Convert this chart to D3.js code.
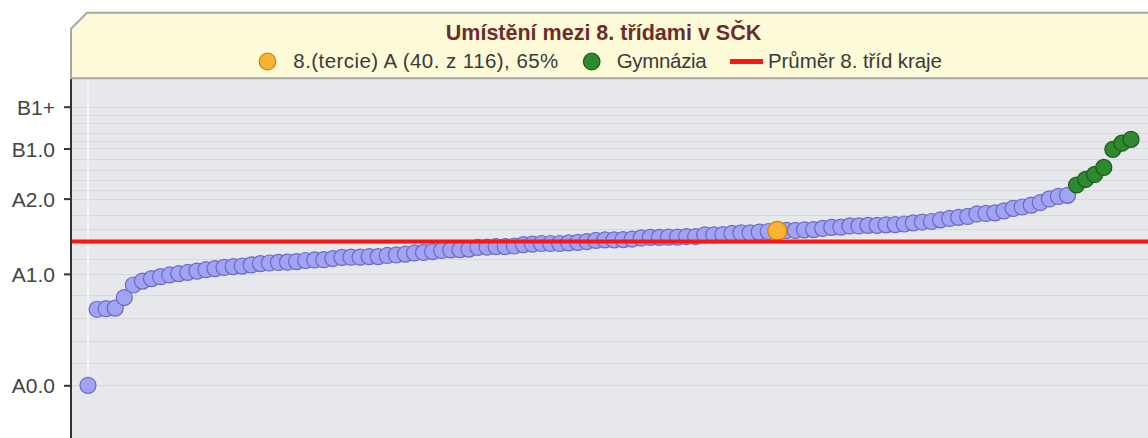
<!DOCTYPE html>
<html><head><meta charset="utf-8">
<script src="https://cdn.jsdelivr.net/npm/d3@7"></script>
<style>html,body{margin:0;padding:0;background:#fff;}svg{display:block;}</style>
</head><body>
<svg id="chart" width="1148" height="438"></svg>
<script>
// ---- data ----
const chartTitle = "Umístění mezi 8. třídami v SČK";
const legendLabels = ["8.(tercie) A (40. z 116), 65%", "Gymnázia", "Průměr 8. tříd kraje"];
const levelLabels = ["A0.0", "A1.0", "A2.0", "B1.0", "B1+"];
const levelValues = [0, 40, 67, 85, 100];
const gridValues = [100, 97.1, 94.2, 90.6, 87.6, 85, 81.3, 77.3, 73.7, 70.1, 67, 61.2, 56.1, 45.3, 40, 32.4, 24.1, 15.8, 7.9, 0];
const classValues = [
  0, 27.3, 27.5, 27.7, 31.5, 36.0, 37.4, 38.3, 39.0, 39.6,
  40.1, 40.5, 41.0, 41.5, 41.9, 42.3, 42.6, 42.8, 43.2, 43.7,
  43.9, 44.1, 44.2, 44.4, 44.8, 45.0, 45.1, 45.5, 45.9, 46.0,
  46.0, 46.2, 46.2, 46.6, 46.8, 47.1, 47.5, 47.7, 48.0, 48.4,
  48.6, 48.7, 48.9, 49.5, 49.6, 49.8, 49.8, 50.0, 50.5, 50.7,
  50.9, 50.9, 50.9, 51.1, 51.3, 51.6, 52.0, 52.2, 52.2, 52.3,
  52.5, 52.9, 53.1, 53.1, 53.2, 53.2, 53.4, 53.4, 54.0, 54.0,
  54.1, 54.5, 54.7, 54.7, 55.0, 55.2, 55.4, 55.6, 55.6, 55.8,
  55.9, 56.3, 56.7, 56.8, 57.2, 57.2, 57.4, 57.4, 57.6, 57.7,
  57.9, 58.3, 58.6, 58.8, 59.4, 59.9, 60.3, 60.6, 61.5, 61.7,
  61.9, 62.6, 63.5, 64.0, 64.7, 65.6, 66.9, 67.8, 68.2, 71.9,
  73.9, 75.7, 78.2, 84.7, 86.9, 88.3
];
const classIds = classValues.map((d, i) => i + 1);
const highlightClass = 77;            // 8.(tercie) A  -> 40th of 116 from the top
const gymnaziaClasses = [110, 111, 112, 113, 114, 115, 116];
const regionAverage = 51.6;

// ---- layout ----
const W = 1148, H = 438;
const plotL = 71, plotT = 78, plotR = 1148, plotB = 438;
const svg = d3.select("#chart");
const FONT = "'Liberation Sans', Arial, sans-serif";

const x = d3.scalePoint().domain(classIds).range([88, 1131]);
const y = d3.scaleLinear().domain([0, 100]).range([385.3, 106.7]);

const colors = {
  normal: {fill: "#a3a3f6", stroke: "#6a6ac2"},
  highlight: {fill: "#f9b232", stroke: "#c98712"},
  gym: {fill: "#2e8a2e", stroke: "#1c5a1c"}
};

svg.append("rect").attr("x", 0).attr("y", 0).attr("width", W).attr("height", H).attr("fill", "#fff");
svg.append("rect").attr("x", plotL).attr("y", plotT).attr("width", plotR - plotL).attr("height", plotB - plotT).attr("fill", "#e6e8eb");

// grid
svg.append("g").selectAll("line").data(gridValues).join("line")
  .attr("x1", plotL).attr("x2", plotR)
  .attr("y1", d => Math.round(y(d)) + 0.5).attr("y2", d => Math.round(y(d)) + 0.5)
  .attr("stroke", "#d6d8dc").attr("stroke-width", 1.2);
svg.append("line").attr("x1", x(classIds[0])).attr("x2", x(classIds[0]))
  .attr("y1", plotT).attr("y2", y(0)).attr("stroke", "#f3f4f5").attr("stroke-width", 2);

// points (highlighted class drawn last, on top)
const pts = classIds.map((id, i) => ({id, v: classValues[i],
  type: id === highlightClass ? "highlight" : (gymnaziaClasses.includes(id) ? "gym" : "normal")}));
const ordered = pts.filter(d => d.type !== "highlight").concat(pts.filter(d => d.type === "highlight"));
svg.append("g").selectAll("circle").data(ordered).join("circle")
  .attr("cx", d => x(d.id)).attr("cy", d => y(d.v))
  .attr("r", d => d.type === "highlight" ? 9.5 : 8)
  .attr("fill", d => colors[d.type].fill)
  .attr("stroke", d => colors[d.type].stroke)
  .attr("stroke-width", 1.2);

// average line
svg.append("line").attr("x1", plotL).attr("x2", plotR)
  .attr("y1", y(regionAverage)).attr("y2", y(regionAverage))
  .attr("stroke", "#ff1414").attr("stroke-width", 4);

// axis
const axis = d3.axisLeft(y).tickValues(levelValues).tickFormat((d, i) => levelLabels[i]).tickSize(7).tickPadding(9);
const ag = svg.append("g").attr("transform", `translate(${plotL},0)`).call(axis);
ag.select(".domain").remove();
ag.selectAll(".tick line").attr("stroke", "#333").attr("stroke-width", 2);
ag.selectAll(".tick text").attr("font-family", FONT)
  .attr("font-size", "21px").attr("fill", "#444").attr("dy", "0.36em");
svg.append("line").attr("x1", plotL).attr("x2", plotL).attr("y1", plotT).attr("y2", plotB)
  .attr("stroke", "#333").attr("stroke-width", 2);

// header
const hx = 71, hy = 12.7, hb = 78.3, ch = 16;
svg.append("path")
  .attr("d", `M${hx},${hb} L${hx},${hy + ch} L${hx + ch},${hy} L${W + 10},${hy} L${W + 10},${hb} Z`)
  .attr("fill", "#fdfbd7").attr("stroke", "#a6a6a6").attr("stroke-width", 2);

svg.append("text").attr("x", 603.5).attr("y", 39.5).attr("text-anchor", "middle")
  .attr("font-family", FONT).attr("font-weight", "bold")
  .attr("font-size", "21.5px").attr("fill", "#6c2b2b").text(chartTitle);

// legend
const lg = svg.append("g");
const ly = 61.5, fs = "20.5px";
const legendItems = [
  {label: legendLabels[0], kind: "circle", c: colors.highlight, mx: 267.5, tx: 293.3, tw: 265},
  {label: legendLabels[1], kind: "circle", c: colors.gym, mx: 591.7, tx: 616.7, tw: 90},
  {label: legendLabels[2], kind: "line", mx: 730, tx: 768, tw: 174}
];
legendItems.forEach(it => {
  if (it.kind === "circle") {
    lg.append("circle").attr("cx", it.mx).attr("cy", ly).attr("r", 8.3)
      .attr("fill", it.c.fill).attr("stroke", it.c.stroke).attr("stroke-width", 1.2);
  } else {
    lg.append("line").attr("x1", it.mx).attr("x2", it.mx + 33).attr("y1", ly).attr("y2", ly)
      .attr("stroke", "#ff1414").attr("stroke-width", 5);
  }
  lg.append("text").attr("x", it.tx).attr("y", 67.7)
    .attr("font-family", FONT).attr("font-size", fs)
    .attr("textLength", it.tw).attr("lengthAdjust", "spacing")
    .attr("fill", "#3a3a3a").text(it.label);
});
</script>
</body></html>
